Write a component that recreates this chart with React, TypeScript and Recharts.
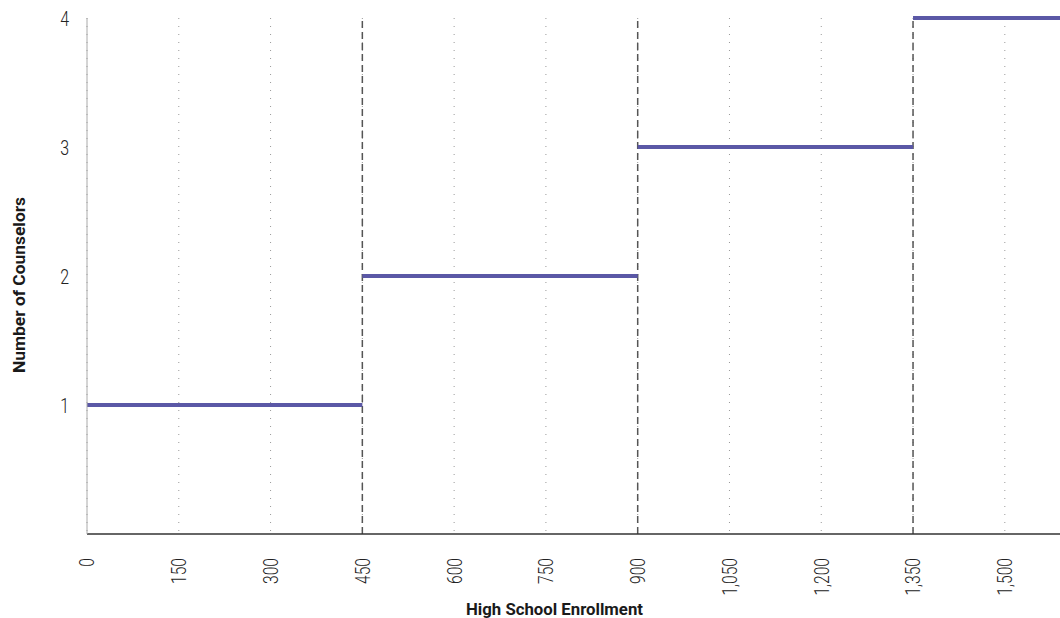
import {
  CartesianGrid,
  ComposedChart,
  Label,
  Line,
  ReferenceLine,
  XAxis,
  YAxis
} from "recharts";

// enrollment thresholds where the counselor count steps up
const enrollmentBreaks = [0, 450, 900, 1350, 1600];
const counselorCounts = [1, 2, 3, 4];
const xTicks = [0, 150, 300, 450, 600, 750, 900, 1050, 1200, 1350, 1500];
const yTicks = [1, 2, 3, 4];

const font = "Roboto, 'DejaVu Sans', sans-serif";
const squeeze = 0.76; // fake a condensed face

// flat segments with a null gap between them so the line breaks
const stepData: Array<{ x: number; y: number | null }> = [];
counselorCounts.forEach((count, i) => {
  stepData.push({ x: enrollmentBreaks[i], y: count });
  stepData.push({ x: enrollmentBreaks[i + 1], y: count });
  if (i < counselorCounts.length - 1) stepData.push({ x: enrollmentBreaks[i + 1], y: null });
});

const fmt = (v: number) => v.toLocaleString("en-US");

function XTick(props: any) {
  const { x, y, payload } = props;
  return (
    <g transform={`translate(${x},${y + 16}) rotate(-90) scale(${squeeze},1)`}>
      <text textAnchor="end" dy="0.36em" fontSize={20.5} fontWeight={300} fill="#222" fontFamily={font}>
        {fmt(payload.value)}
      </text>
    </g>
  );
}

function YTick(props: any) {
  const { x, y, payload } = props;
  return (
    <g transform={`translate(${x},${y}) scale(${squeeze},1)`}>
      <text textAnchor="end" dy="0.36em" fontSize={21} fontWeight={300} fill="#222" fontFamily={font}>
        {payload.value}
      </text>
    </g>
  );
}

const titleStyle = { fontFamily: font, fontWeight: 700, fontSize: 17, fill: "#1a1a1a" };

function XTitle() {
  return (
    <text x={554.5} y={615} textAnchor="middle" textLength={177} lengthAdjust="spacingAndGlyphs" style={titleStyle}>
      High School Enrollment
    </text>
  );
}

function YTitle() {
  return (
    <text
      transform="translate(24.5,285) rotate(-90)"
      textAnchor="middle"
      textLength={176}
      lengthAdjust="spacingAndGlyphs"
      style={titleStyle}
    >
      Number of Counselors
    </text>
  );
}

export default function App() {
  return (
    <div style={{ position: "fixed", left: 0, top: 0, width: 1060, height: 618, overflow: "hidden", background: "#fff" }}>
      <ComposedChart
        width={1070}
        height={618}
        data={stepData}
        margin={{ top: 18, right: 4, bottom: 0, left: 0 }}
      >
        <CartesianGrid horizontal={false} stroke="#999" strokeDasharray="1 7" />
        <XAxis
          dataKey="x"
          type="number"
          domain={[0, 1600]}
          ticks={xTicks}
          interval={0}
          height={84}
          stroke="#333"
          strokeWidth={1.5}
          tickLine={false}
          tick={<XTick />}
        >
          <Label content={<XTitle />} />
        </XAxis>
        <YAxis
          type="number"
          domain={[0, 4]}
          ticks={yTicks}
          width={87}
          stroke="#aaa"
          tickLine={false}
          tickSize={0}
          tickMargin={18}
          tick={<YTick />}
        >
          <Label content={<YTitle />} />
        </YAxis>
        {enrollmentBreaks.slice(1, -1).map((b) => (
          <ReferenceLine key={b} x={b} stroke="#555" strokeWidth={1.5} strokeDasharray="7 4" />
        ))}
        <Line
          dataKey="y"
          type="linear"
          stroke="#5b58a6"
          strokeWidth={4}
          dot={false}
          activeDot={false}
          connectNulls={false}
          isAnimationActive={false}
        />
      </ComposedChart>
    </div>
  );
}
